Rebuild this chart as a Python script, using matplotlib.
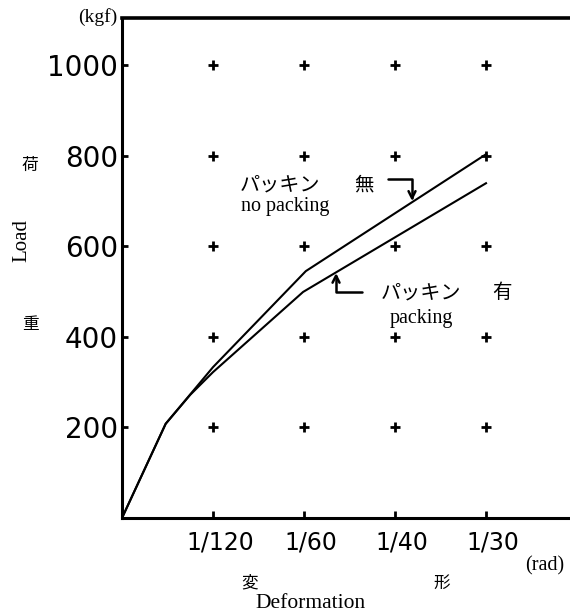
import matplotlib.pyplot as plt
import matplotlib.transforms as mtransforms

# x in units of 1/120 rad, y in kgf
x_ticks = [1, 2, 3, 4]
x_labels = ['1/120', '1/60', '1/40', '1/30']
y_ticks = [200, 400, 600, 800, 1000]
y_labels = ['200', '400', '600', '800', '1000']

x_no_pack = [0, 0.48, 1.0, 2.02, 4.0]
y_no_pack = [0, 208, 333, 545, 803]
x_pack = [0, 0.48, 0.75, 1.0, 1.99, 4.0]
y_pack = [0, 208, 272, 322, 499, 739]

JP = ['Noto Sans CJK JP', 'DejaVu Sans']
SERIF = ['Liberation Serif', 'DejaVu Serif']

W, H = 570, 615
fig = plt.figure(figsize=(W / 100, H / 100), dpi=100)
ax = fig.add_axes([122 / W, 97 / H, 1 - 122 / W, (518 - 18) / H])

ax.plot(x_no_pack, y_no_pack, color='black', lw=1.5, solid_joinstyle='miter')
ax.plot(x_pack, y_pack, color='black', lw=1.5, solid_joinstyle='miter')

# grid of + marks
gx = [x for x in x_ticks for _ in y_ticks]
gy = [y for _ in x_ticks for y in y_ticks]
ax.plot(gx, gy, ls='none', marker='+', ms=7.5, mew=2, color='black')

ax.set_xlim(0, (570 - 122) / 91)
ax.set_ylim(0, (518 - 18) / 0.453)

ax.set_xticks(x_ticks)
ax.set_xticklabels(x_labels, fontsize=17, family='DejaVu Sans')
ax.set_yticks(y_ticks)
ax.set_yticklabels(y_labels, fontsize=20, family='DejaVu Sans')
ax.tick_params(axis='x', direction='in', length=5, width=2, pad=9)
ax.tick_params(axis='y', direction='in', length=4, width=2, pad=3)
off = mtransforms.ScaledTranslation(7 / 100, 0, fig.dpi_scale_trans)
for lab in ax.get_xticklabels():
    lab.set_transform(lab.get_transform() + off)

for s in ['left', 'bottom', 'top']:
    ax.spines[s].set_linewidth(2.2)
ax.spines['top'].set_linewidth(2.6)
ax.spines['right'].set_visible(False)

# annotations
ax.text(1.736, 735, 'パッキン', family=JP, fontsize=14.5, ha='center', va='center')
ax.text(2.66, 735, '無', family=JP, fontsize=14, ha='center', va='center')
ax.text(1.79, 687, 'no packing', family=SERIF, fontsize=14.5, ha='center', va='center')
ax.text(3.28, 497, 'パッキン', family=JP, fontsize=14.5, ha='center', va='center')
ax.text(4.18, 497, '有', family=JP, fontsize=14, ha='center', va='center')
ax.text(3.29, 441, 'packing', family=SERIF, fontsize=14.5, ha='center', va='center')

arrow = dict(arrowstyle='->,head_length=0.5,head_width=0.25', lw=1.8,
             color='black', shrinkA=0, shrinkB=0,
             connectionstyle='angle,angleA=0,angleB=90,rad=0')
ax.annotate('', xy=(3.187, 700), xytext=(2.923, 748), arrowprops=arrow)
ax.annotate('', xy=(2.352, 541), xytext=(2.637, 499), arrowprops=arrow)


def ftext(px, py, s, **kw):
    fig.text(px / W, 1 - py / H, s, ha='center', va='center', **kw)


ftext(98, 17, '(kgf)', family=SERIF, fontsize=14)
ftext(30, 165, '荷', family=JP, fontsize=12)
ftext(22, 240, 'Load', family=SERIF, fontsize=15, rotation=90)
ftext(30, 325, '重', family=JP, fontsize=12)
ftext(545, 566, '(rad)', family=SERIF, fontsize=14.5)
ftext(250, 583, '変', family=JP, fontsize=12)
ftext(442, 583, '形', family=JP, fontsize=12)
ftext(310, 604, 'Deformation', family=SERIF, fontsize=15.5)

fig.savefig('out.png', dpi=100)
